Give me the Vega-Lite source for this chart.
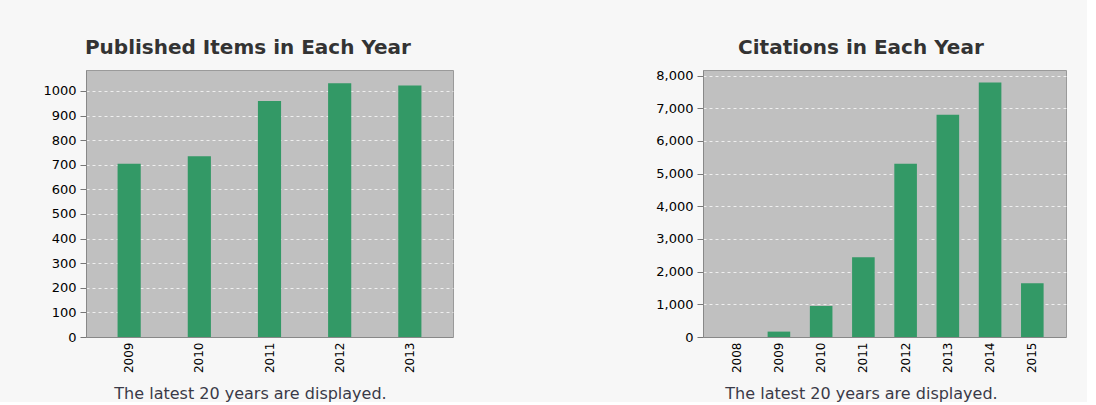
{
  "$schema": "https://vega.github.io/schema/vega-lite/v6.json",
  "background": "#f7f7f7",
  "padding": {"left": 42, "top": 37, "right": 20, "bottom": 0},
  "spacing": 201,
  "config": {
    "view": {"fill": "#c0c0c0", "stroke": "#9a9a9a"},
    "title": {"font": "DejaVu Sans", "fontSize": 20, "fontWeight": "bold", "color": "#333333", "offset": 12, "anchor": "middle", "frame": "bounds"},
    "axis": {
      "labelFont": "DejaVu Sans",
      "labelFontSize": 13,
      "labelColor": "#000000",
      "domainColor": "#888888",
      "tickColor": "#777777",
      "titleFont": "DejaVu Sans",
      "titleFontSize": 16,
      "titleFontWeight": "normal",
      "titleColor": "#3a3a48"
    },
    "axisY": {"grid": true, "gridColor": "#ffffff", "gridDash": [3, 3], "gridOpacity": 0.75, "tickSize": 6, "labelPadding": 4, "domain": true},
    "axisX": {"grid": false, "ticks": false, "labelPadding": 5, "labelFontSize": 12}
  },
  "hconcat": [
    {
      "title": "Published Items in Each Year",
      "width": 367,
      "height": 267,
      "data": {"values": [
        {"year": "2009", "count": 704},
        {"year": "2010", "count": 735},
        {"year": "2011", "count": 959},
        {"year": "2012", "count": 1031},
        {"year": "2013", "count": 1022}
      ]},
      "mark": {"type": "bar", "color": "#339966"},
      "encoding": {
        "x": {"field": "year", "type": "ordinal", "scale": {"paddingInner": 0.67, "paddingOuter": 0.45},
          "axis": {"title": "The latest 20 years are displayed.", "labelAngle": -90, "titleX": 164, "titleY": 48, "titleAnchor": "middle", "titleAlign": "center", "titleBaseline": "top"}},
        "y": {"field": "count", "type": "quantitative", "scale": {"domain": [0, 1085], "nice": false},
          "axis": {"title": null, "values": [0, 100, 200, 300, 400, 500, 600, 700, 800, 900, 1000], "format": "d"}}
      }
    },
    {
      "title": "Citations in Each Year",
      "width": 363,
      "height": 267,
      "data": {"values": [
        {"year": "2008", "count": 0},
        {"year": "2009", "count": 165},
        {"year": "2010", "count": 950},
        {"year": "2011", "count": 2440},
        {"year": "2012", "count": 5300},
        {"year": "2013", "count": 6800},
        {"year": "2014", "count": 7790},
        {"year": "2015", "count": 1645}
      ]},
      "mark": {"type": "bar", "color": "#339966"},
      "encoding": {
        "x": {"field": "year", "type": "ordinal", "scale": {"paddingInner": 0.465, "paddingOuter": 0.53},
          "axis": {"title": "The latest 20 years are displayed.", "labelAngle": -90, "titleX": 158, "titleY": 48, "titleAnchor": "middle", "titleAlign": "center", "titleBaseline": "top"}},
        "y": {"field": "count", "type": "quantitative", "scale": {"domain": [0, 8170], "nice": false},
          "axis": {"title": null, "values": [0, 1000, 2000, 3000, 4000, 5000, 6000, 7000, 8000], "format": ",d"}}
      }
    }
  ]
}
